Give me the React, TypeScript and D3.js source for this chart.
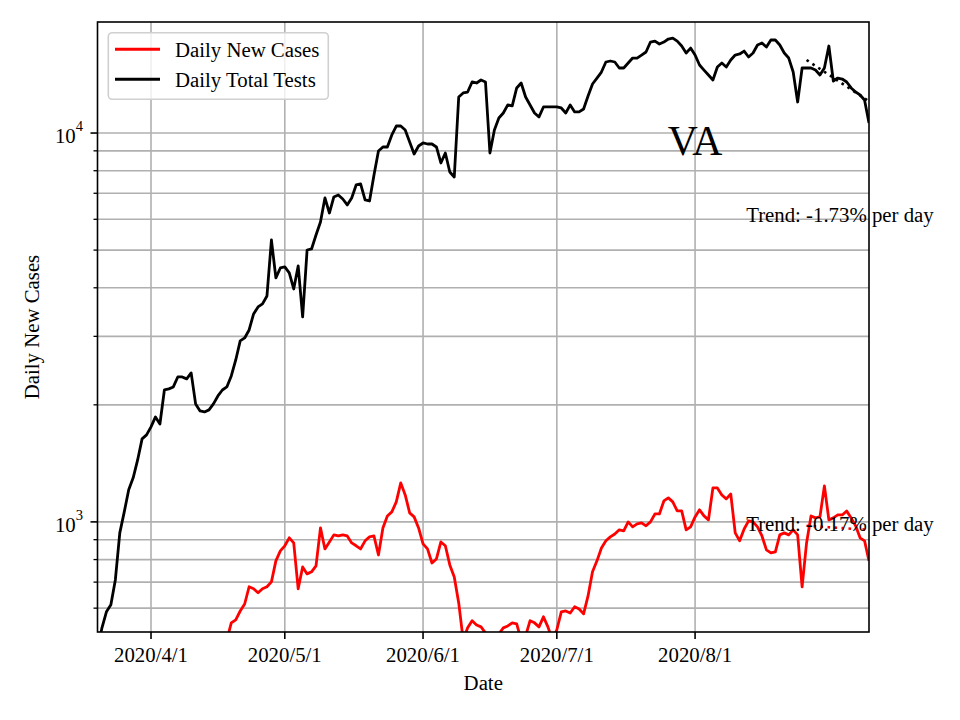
import React from "react";
import * as d3 from "d3";

// ---- Data (daily, starting 2020-03-20) ----
const startDate = new Date(Date.UTC(2020, 2, 20));
const endDate = new Date(Date.UTC(2020, 8, 9));

const dailyTotalTests = [
  470, 534, 587, 612, 709, 937, 1061, 1209, 1298, 1443,
  1635, 1674, 1755, 1862, 1786, 2184, 2198, 2224, 2359, 2359,
  2332, 2416, 2011, 1929, 1918, 1941, 2011, 2108, 2184, 2224,
  2373, 2609, 2920, 2972, 3116, 3426, 3571, 3635, 3811, 5308,
  4240, 4498, 4525, 4367, 3972, 4552, 3366, 5003, 5034, 5469,
  5906, 6808, 6228, 6849, 6930, 6768, 6532, 6808, 7352, 7396,
  6728, 6688, 7800, 8993, 9207, 9207, 9885, 10425, 10425, 10182,
  9484, 8834, 9262, 9428, 9372, 9372, 9207, 8375, 8886, 7941,
  7708, 12380, 12680, 12750, 13530, 13450, 13690, 13530, 8886, 10182,
  10930, 11260, 11810, 11740, 13060, 13450, 12380, 11810, 11260, 11000,
  11670, 11670, 11670, 11670, 11600, 11260, 11810, 11330, 11330, 11530,
  12450, 13370, 13850, 14350, 15230, 15320, 15230, 14700, 14700, 15140,
  15590, 15590, 15870, 16160, 17140, 17240, 16940, 17140, 17450, 17550,
  17240, 16740, 16060, 16540, 15870, 14960, 14520, 14100, 13690, 14790,
  15140, 14790, 15410, 15870, 15970, 16250, 15690, 16060, 16840, 17040,
  16640, 17350, 17350, 16840, 16060, 15590, 14350, 12020, 14700, 14700,
  14700, 14520, 14100, 14700, 16740, 13610, 13850, 13770, 13530, 13060,
  12750, 12530, 12160, 10610,
];

const dailyNewCases = [
  20, 38, 67, 35, 36, 101, 74, 144, 135, 149,
  99, 136, 221, 220, 181, 276, 248, 163, 407, 271,
  323, 281, 255, 367, 385, 356, 470, 446, 427, 497,
  550, 560, 590, 615, 681, 673, 657, 673, 681, 701,
  794, 842, 868, 910, 883, 673, 766, 735, 744, 771,
  965, 852, 888, 926, 920, 926, 920, 883, 868, 852,
  894, 915, 920, 822, 965, 1036, 1061, 1126, 1260, 1173,
  1055, 1030, 965, 878, 852, 784, 803, 888, 868, 775,
  722, 619, 497, 534, 557, 543, 537, 518, 500, 490,
  515, 534, 540, 550, 547, 497, 509, 557, 550, 537,
  570, 537, 497, 528, 587, 590, 583, 605, 597, 580,
  645, 744, 794, 857, 894, 915, 931, 954, 948, 1000,
  971, 988, 994, 977, 1000, 1048, 1048, 1132, 1153, 1126,
  1067, 1067, 954, 971, 1030, 1074, 1036, 1012, 1223, 1223,
  1173, 1146, 1180, 937, 894, 959, 1006, 1000, 971, 920,
  847, 832, 837, 926, 937, 926, 954, 926, 681, 883,
  1036, 1024, 1030, 1238, 1012, 1024, 1042, 1042, 1067, 1024,
  977, 910, 894, 794,
];

// Trend fits over the final days
const trendStartIndex = 159;
const testsTrendStart = 15410;
const testsTrendRate = -0.0173;
const casesTrendStart = 977;
const casesTrendRate = -0.0017;

const xTickDates = [
  new Date(Date.UTC(2020, 3, 1)),
  new Date(Date.UTC(2020, 4, 1)),
  new Date(Date.UTC(2020, 5, 1)),
  new Date(Date.UTC(2020, 6, 1)),
  new Date(Date.UTC(2020, 7, 1)),
];
const xTickLabels = ["2020/4/1", "2020/5/1", "2020/6/1", "2020/7/1", "2020/8/1"];
const yMajorTicks = [1000, 10000];
const yMajorExponents = ["3", "4"];
const yMinorTicks = [600, 700, 800, 900, 2000, 3000, 4000, 5000, 6000, 7000, 8000, 9000];

const stateLabel = "VA";
const testsTrendLabel = "Trend: -1.73% per day";
const casesTrendLabel = "Trend: -0.17% per day";
const legendLabels = ["Daily New Cases", "Daily Total Tests"];
const seriesColors = ["#ff0000", "#000000"];

// ---- Layout ----
const W = 960;
const H = 720;
const plot = { left: 97.5, right: 869, top: 22, bottom: 632 };
const FONT = "'Liberation Serif', 'Times New Roman', serif";
const FS = 20.8;

export default function App() {
  const x = d3.scaleUtc().domain([startDate, endDate]).range([plot.left, plot.right]);
  const y = d3.scaleLog().domain([521, 19300]).range([plot.bottom, plot.top]);
  const dateAt = (i: number) => d3.utcDay.offset(startDate, i);

  const line = d3
    .line<number>()
    .x((_, i) => x(dateAt(i)))
    .y((v) => y(v));

  const trendIdx = d3.range(trendStartIndex, dailyTotalTests.length);
  const trendPath = (start: number, rate: number) =>
    d3
      .line<number>()
      .x((i) => x(dateAt(i)))
      .y((i) => y(start * Math.pow(1 + rate, i - trendStartIndex)))(trendIdx) || "";

  const pw = plot.right - plot.left;
  const textX = plot.left + pw * 0.8408;

  return (
    <svg width={W} height={H} style={{ display: "block", position: "absolute", left: 0, top: 0 }} fontFamily={FONT}>
      <rect x={0} y={0} width={W} height={H} fill="#ffffff" />
      <defs>
        <clipPath id="plotClip">
          <rect x={plot.left} y={plot.top} width={pw} height={plot.bottom - plot.top} />
        </clipPath>
      </defs>

      {/* grid */}
      <g stroke="#b0b0b0" strokeWidth={1.6}>
        {[...yMinorTicks, ...yMajorTicks].map((t) => (
          <line key={"gy" + t} x1={plot.left} x2={plot.right} y1={y(t)} y2={y(t)} />
        ))}
        {xTickDates.map((d, i) => (
          <line key={"gx" + i} x1={x(d)} x2={x(d)} y1={plot.top} y2={plot.bottom} />
        ))}
      </g>

      {/* series */}
      <g clipPath="url(#plotClip)" fill="none" strokeLinejoin="round">
        <path d={line(dailyNewCases) || ""} stroke={seriesColors[0]} strokeWidth={2.8} />
        <path d={line(dailyTotalTests) || ""} stroke={seriesColors[1]} strokeWidth={2.8} />
        <path
          d={trendPath(testsTrendStart, testsTrendRate)}
          stroke="#000000"
          strokeWidth={2.6}
          strokeDasharray="2.6,4.4"
        />
        <path
          d={trendPath(casesTrendStart, casesTrendRate)}
          stroke="#ff0000"
          strokeWidth={2.6}
          strokeDasharray="2.6,4.4"
        />
      </g>

      {/* annotations */}
      <text x={x(xTickDates[4])} y={155} fontSize={41.7} textAnchor="middle" fill="#000">
        {stateLabel}
      </text>
      <text x={textX} y={222} fontSize={FS} fill="#000">
        {testsTrendLabel}
      </text>
      <text x={textX} y={531} fontSize={FS} fill="#000">
        {casesTrendLabel}
      </text>

      {/* spines */}
      <rect
        x={plot.left}
        y={plot.top}
        width={pw}
        height={plot.bottom - plot.top}
        fill="none"
        stroke="#000"
        strokeWidth={1.6}
      />

      {/* x ticks */}
      <g>
        {xTickDates.map((d, i) => (
          <g key={"xt" + i}>
            <line x1={x(d)} x2={x(d)} y1={plot.bottom} y2={plot.bottom + 7} stroke="#000" strokeWidth={1.6} />
            <text x={x(d)} y={662} fontSize={FS} textAnchor="middle" fill="#000">
              {xTickLabels[i]}
            </text>
          </g>
        ))}
      </g>

      {/* y ticks */}
      <g>
        {yMinorTicks.map((t) => (
          <line key={"ym" + t} x1={plot.left - 4} x2={plot.left} y1={y(t)} y2={y(t)} stroke="#000" strokeWidth={1.3} />
        ))}
        {yMajorTicks.map((t, i) => (
          <g key={"yM" + t}>
            <line x1={plot.left - 7} x2={plot.left} y1={y(t)} y2={y(t)} stroke="#000" strokeWidth={1.6} />
            <text x={83} y={y(t) + 9.7} fontSize={FS} textAnchor="end" fill="#000">
              10
              <tspan fontSize={14.6} dy={-12}>
                {yMajorExponents[i]}
              </tspan>
            </text>
          </g>
        ))}
      </g>

      {/* axis labels */}
      <text x={(plot.left + plot.right) / 2} y={690} fontSize={FS} textAnchor="middle" fill="#000">
        Date
      </text>
      <text
        transform={`translate(38.5, ${(plot.top + plot.bottom) / 2}) rotate(-90)`}
        fontSize={FS}
        textAnchor="middle"
        fill="#000"
      >
        Daily New Cases
      </text>

      {/* legend */}
      <g>
        <rect x={108.3} y={32.7} width={220} height={66.6} rx={4} fill="#ffffff" fillOpacity={0.8} stroke="#d0d0d0" strokeWidth={1.6} />
        {legendLabels.map((lab, i) => (
          <g key={lab}>
            <line x1={115} x2={160} y1={49.3 + i * 30} y2={49.3 + i * 30} stroke={seriesColors[i]} strokeWidth={3} />
            <text x={175} y={56.7 + i * 30} fontSize={FS} fill="#000">
              {lab}
            </text>
          </g>
        ))}
      </g>
    </svg>
  );
}
